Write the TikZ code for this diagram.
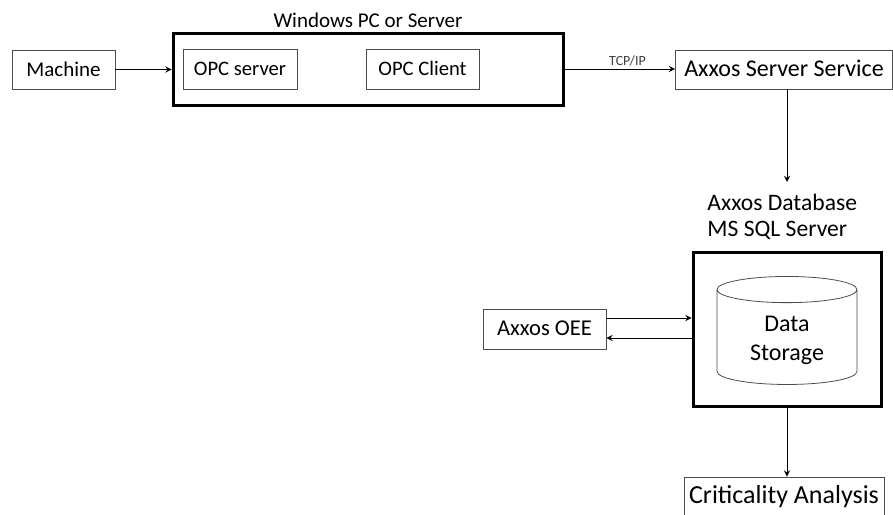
\documentclass[tikz,border=0pt]{standalone}
\usepackage{fontspec}
\setmainfont{Carlito}
\usepackage{tikz}
\usetikzlibrary{shapes.geometric, arrows}
\tikzstyle{arrow} = [thin,->,>=stealth]
\tikzstyle{blk} = [rectangle, draw=black!70, inner sep=0pt, text height=0.8em, text depth=0.12em, font=\fontsize{10.5}{12}\selectfont]
\tikzstyle{grp} = [rectangle, draw=black, line width=1.5pt, inner sep=0pt]

\begin{document}
\begin{tikzpicture}[x=0.5pt, y=-0.5pt]
		\useasboundingbox (0,0) rectangle (893,514);
		\node (mach) [blk, minimum width=51.5pt, minimum height=19.5pt] at (63.5,69.5) {Machine};
		\node (pc) [grp, minimum width=195pt, minimum height=36pt] at (368,69) {};
		\node (pclab) [font=\fontsize{10.5}{12}\selectfont] at (368,20) {Windows PC or Server};
		\node (opcs) [blk, minimum width=57pt, minimum height=20pt, font=\fontsize{10.3}{12}\selectfont] at (240,69) {OPC server};
		\node (opcc) [blk, minimum width=56.5pt, minimum height=20pt, font=\fontsize{10.3}{12}\selectfont] at (422.5,69) {OPC Client};
		\node (srv) [blk, minimum width=108.5pt, minimum height=19.5pt, font=\fontsize{12}{14}\selectfont] at (784,69.5) {Axxos Server Service};
		\draw [arrow] (mach) -- (pc.west |- mach);
		\draw [arrow] (pc.east |- opcc) -- node [above, pos=0.57, font=\fontsize{7}{8}\selectfont, text=black!75, inner sep=1.5pt] {TCP/IP} (srv.west |- opcc);
		\node (dblab) [anchor=north west, align=left, inner sep=0pt, font=\fontsize{11.8}{13}\selectfont] at (707,194) {Axxos Database\\MS SQL Server};
		\coordinate (dbtop) at (787,182);
		\draw [arrow] (srv.south -| dbtop) -- (dbtop);
		\node (db) [grp, minimum width=94pt, minimum height=77pt] at (787,329) {};
		\node (store) [cylinder, shape border rotate=90, draw=black!70, aspect=0.3, minimum width=70pt, minimum height=54pt, align=center, font=\fontsize{12}{14.5}\selectfont] at (787,340) {Data\\Storage};
		\node (oee) [blk, minimum width=61.5pt, minimum height=20pt, font=\fontsize{11.3}{13}\selectfont] at (544.5,329) {Axxos OEE};
		\draw [arrow] ([yshift=5.5pt]oee.east) -- ([yshift=5.5pt]oee.east -| db.west);
		\draw [arrow] ([yshift=-4.5pt]oee.east -| db.west) -- ([yshift=-4.5pt]oee.east);
		\node (crit) [blk, minimum width=100pt, minimum height=20pt, font=\fontsize{13}{15}\selectfont] at (784,497) {Criticality Analysis};
		\draw [arrow] (db.south -| dbtop) -- (crit.north -| dbtop);
\end{tikzpicture}
\end{document}
